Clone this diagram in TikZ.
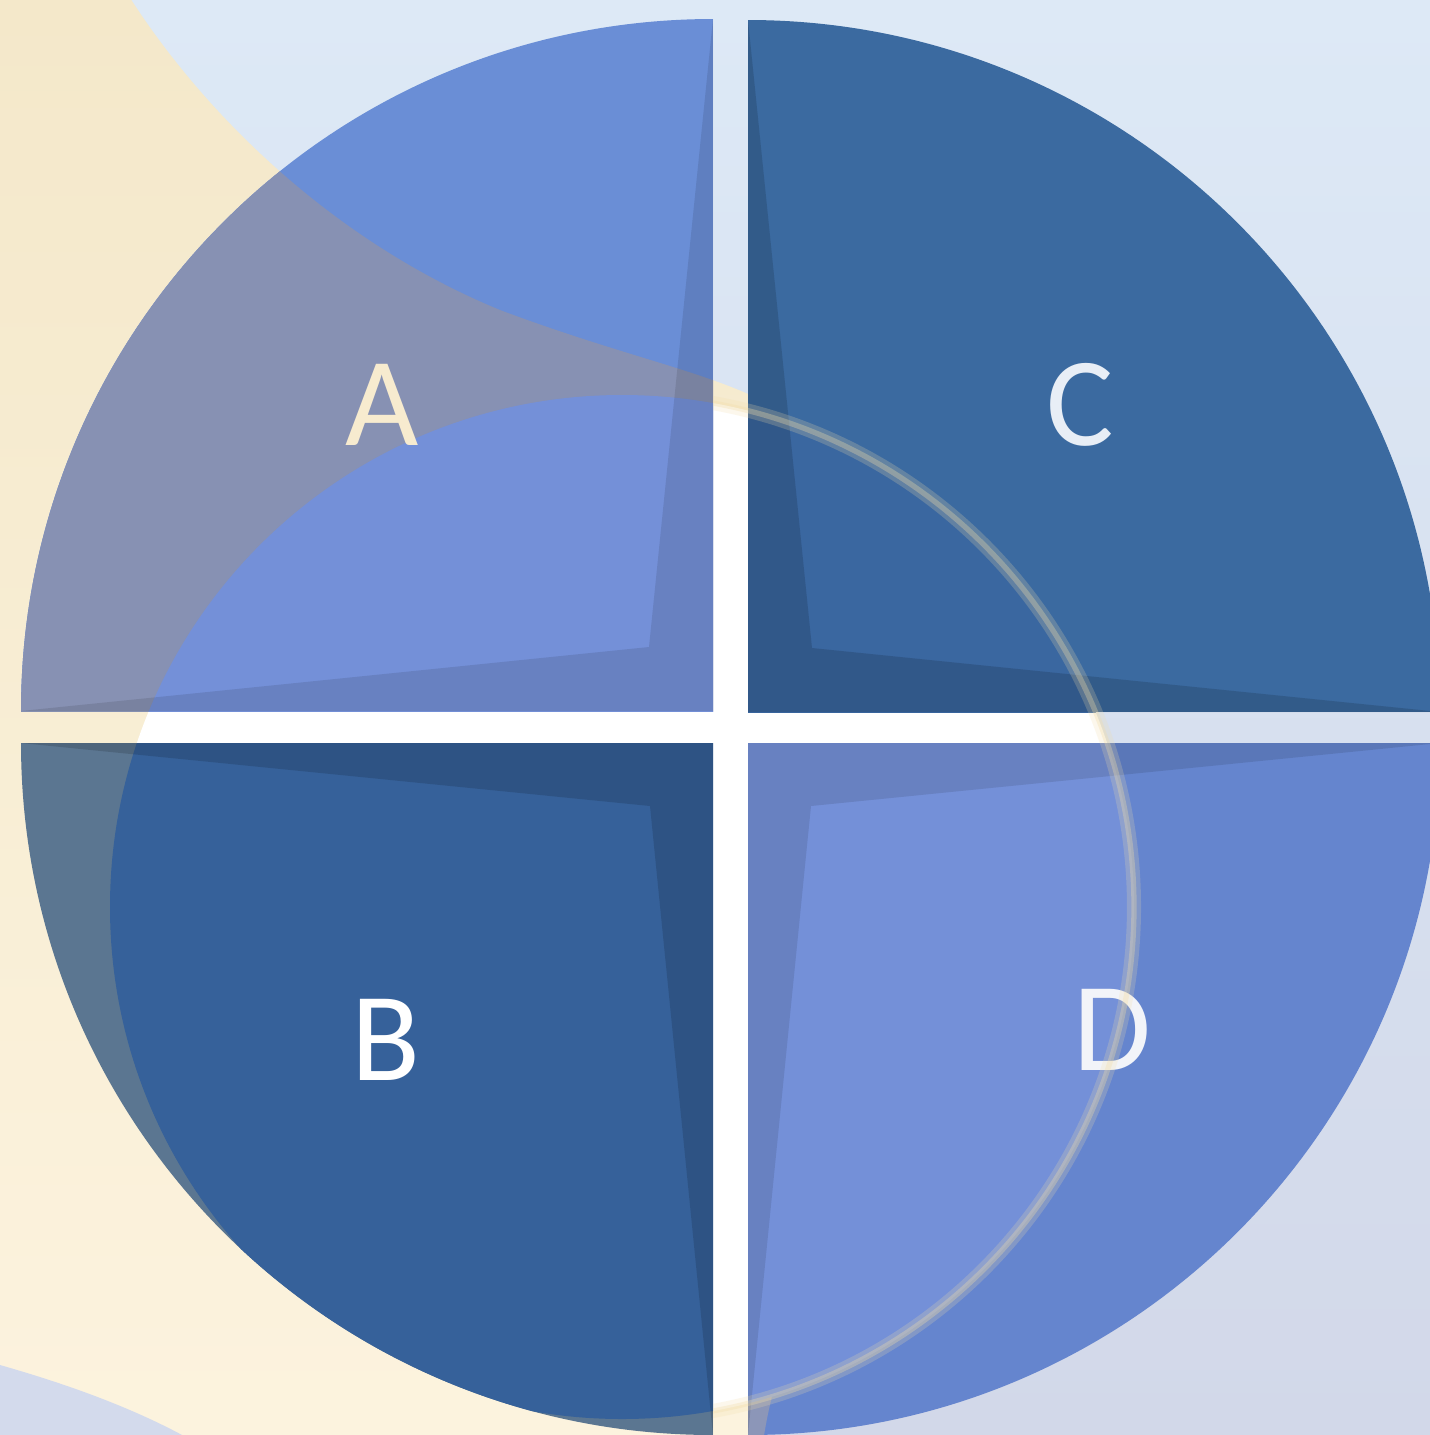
\documentclass[tikz,border=0pt]{standalone}
\usepackage{fontspec}
\newfontfamily\labfont{Carlito}
\definecolor{bgtop}{HTML}{DDE9F6}
\definecolor{bgbot}{HTML}{D2D8E9}
\definecolor{creamtop}{HTML}{F4E8CA}
\definecolor{creambot}{HTML}{FCF3DE}
\definecolor{lavpatch}{HTML}{D3DAEC}
\definecolor{aBlue}{HTML}{6A8ED6}
\definecolor{aCream}{HTML}{8791B3}
\definecolor{aWhite}{HTML}{7490D8}
\definecolor{cBlue}{HTML}{3B6AA0}
\definecolor{cWhite}{HTML}{3A67A0}
\definecolor{bCream}{HTML}{5B7691}
\definecolor{bWhite}{HTML}{36619A}
\definecolor{dBlue}{HTML}{6585CE}
\definecolor{dCream}{HTML}{8C96B8}
\definecolor{dWhite}{HTML}{7490D8}
\definecolor{ringcol}{HTML}{F2DEAA}
\definecolor{labAcol}{HTML}{F7EBCF}
\definecolor{labBcol}{HTML}{FFFFFF}
\definecolor{labCcol}{HTML}{E8EEF6}
\definecolor{labDcol}{HTML}{F2F4F9}
\newcommand\mycreampath{(0,-10) -- (125,-10) .. controls (200,110) and (330,240) .. (500,310) .. controls (620,355) and (700,370) .. (761,400) .. controls (900,470) and (1000,700) .. (950,900) .. controls (900,1100) and (780,1300) .. (762,1450) -- (0,1450) -- cycle}
\newcommand\myring{(622,907) circle (512)}
\tikzset{
  lab/.style={font=\labfont\fontsize{36}{40}\selectfont, inner sep=0pt},
  bevelL/.style={fill=black, fill opacity=0.10},
  bevelD/.style={fill=black, fill opacity=0.14},
}
\begin{document}
\begin{tikzpicture}[x=0.01cm,y=-0.01cm]
\useasboundingbox (0,0) rectangle (1430,1435);
\clip (0,0) rectangle (1430,1435);
% background
\shade[top color=bgtop, bottom color=bgbot] (0,0) rectangle (1430,1435);
\begin{scope}
  \clip \mycreampath;
  \shade[top color=creamtop, bottom color=creambot] (0,0) rectangle (1430,1435);
\end{scope}
\fill[lavpatch] (0,1365) .. controls (70,1385) and (140,1410) .. (200,1445) -- (0,1445) -- cycle;
\begin{scope}
  \clip (730,727) circle (700);
  \fill[white] \myring;
\end{scope}
% quadrant A
\begin{scope}
  \clip (713,711) circle (692);
  \clip (0,0) rectangle (713,711);
  \fill[aBlue] (0,0) rectangle (713,711);
  \fill[aCream] \mycreampath;
  \fill[aWhite] \myring;
  \path[bevelL] (713,19) -- (713,711) -- (21,711) -- (649,647) -- cycle;
\end{scope}
% quadrant C
\begin{scope}
  \clip (748,712) circle (692);
  \clip (748,0) rectangle (1440,712);
  \fill[cBlue] (748,0) rectangle (1440,712);
  \fill[cWhite] \myring;
  \path[bevelD] (748,20) -- (748,712) -- (1440,712) -- (812,648) -- cycle;
\end{scope}
% quadrant B
\begin{scope}
  \clip (713,743) circle (692);
  \clip (0,743) rectangle (713,1440);
  \fill[bCream] (0,743) rectangle (713,1440);
  \fill[bWhite] \myring;
  \path[bevelD] (21,743) -- (713,743) -- (713,1435) -- (650,806) -- cycle;
\end{scope}
% quadrant D
\begin{scope}
  \clip (748,743) circle (692);
  \clip (748,743) rectangle (1440,1440);
  \fill[dBlue] (748,743) rectangle (1440,1440);
  \fill[dCream] \mycreampath;
  \fill[dWhite] \myring;
  \path[bevelL] (1440,743) -- (748,743) -- (748,1435) -- (811,806) -- cycle;
\end{scope}
% labels
\node[lab, text=labAcol] (labA) at (382,405) {A};
\node[lab, text=labCcol] (labC) at (1080,405) {C};
\node[lab, text=labBcol] (labB) at (386,1040) {B};
\node[lab, text=labDcol] (labD) at (1112,1030) {D};
% ring glow, visible on the right half only
\begin{scope}
  \clip (713,0) rectangle (1430,1435);
  \draw[ringcol, line width=4pt, opacity=0.22] \myring;
  \draw[ringcol, line width=1.5pt, opacity=0.32] \myring;
\end{scope}
\end{tikzpicture}
\end{document}
